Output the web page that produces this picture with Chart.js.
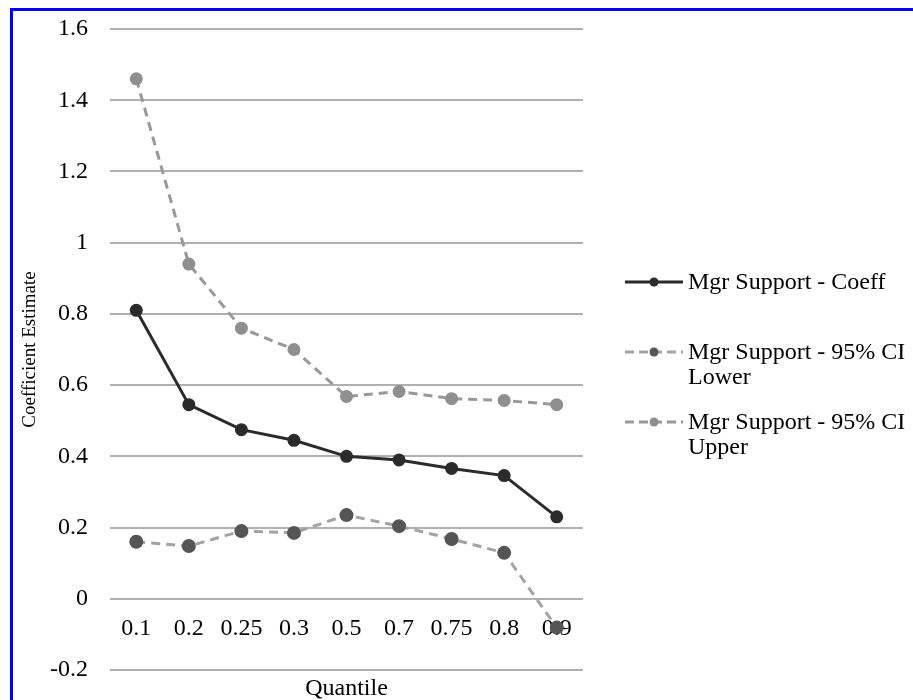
<!DOCTYPE html>
<html>
<head>
<meta charset="utf-8">
<script src="https://cdn.jsdelivr.net/npm/chart.js@4/dist/chart.umd.min.js"></script>
<style>
    body {
        margin: 0;
        background: #fff;
    }
    #wrap {
        position: relative;
        width: 913px;
        height: 700px;
        overflow: hidden;
    }
    #frame {
        position: absolute;
        left: 10px;
        top: 8px;
        width: 960px;
        height: 760px;
        border-left: 3px solid #0000ff;
        border-top: 3px solid #0000ff;
        pointer-events: none;
    }
    #legend {
        position: absolute;
        left: 624px;
        top: 269px;
        font-family: "Liberation Serif", "Times New Roman", serif;
        font-size: 24px;
        line-height: 25px;
        color: #000;
    }
    .legend-item {
        display: flex;
        align-items: flex-start;
        height: 70px;
    }
    .legend-item svg {
        flex: none;
        margin-top: 6px;
        margin-right: 4px;
    }
    .legend-text {
        width: 222px;
    }
</style>
</head>
<body>
<div id="wrap">
    <canvas id="chart-quantile" width="913" height="700"></canvas>
    <div id="legend"></div>
    <div id="frame"></div>
</div>
<script>
// Quantiles (eje X)
const quantiles = ['0.1', '0.2', '0.25', '0.3', '0.5', '0.7', '0.75', '0.8', '0.9'];

// Series
const coeff = [0.81, 0.545, 0.475, 0.445, 0.40, 0.39, 0.366, 0.346, 0.23];
const ciLower = [0.16, 0.148, 0.19, 0.185, 0.235, 0.204, 0.168, 0.129, -0.081];
const ciUpper = [1.46, 0.94, 0.76, 0.70, 0.568, 0.582, 0.562, 0.557, 0.545];

const seriesNames = [
    'Mgr Support - Coeff',
    'Mgr Support - 95% CI Lower',
    'Mgr Support - 95% CI Upper'
];

// Eje Y
const yMin = -0.2;
const yMax = 1.6;
const yStep = 0.2;

const serif = '"Liberation Serif", "Times New Roman", serif';

let chart;

function createQuantileChart() {
    const ctx = document.getElementById('chart-quantile').getContext('2d');

    chart = new Chart(ctx, {
        type: 'line',
        data: {
            labels: quantiles,
            datasets: [{
                label: seriesNames[0],
                data: coeff,
                borderColor: '#2b2b2b',
                borderWidth: 3,
                pointBackgroundColor: '#2b2b2b',
                pointBorderColor: '#2b2b2b',
                pointRadius: 5,
                tension: 0
            }, {
                label: seriesNames[1],
                data: ciLower,
                borderColor: '#a3a3a3',
                borderWidth: 3,
                borderDash: [9, 6],
                pointBackgroundColor: '#555555',
                pointBorderColor: '#555555',
                pointRadius: 5.5,
                tension: 0
            }, {
                label: seriesNames[2],
                data: ciUpper,
                borderColor: '#999999',
                borderWidth: 3,
                borderDash: [9, 6],
                pointBackgroundColor: '#8f8f8f',
                pointBorderColor: '#8f8f8f',
                pointRadius: 5,
                tension: 0
            }]
        },
        options: {
            responsive: false,
            animation: false,
            devicePixelRatio: 1,
            layout: {
                padding: { left: 14, right: 330, top: 29, bottom: 0 }
            },
            plugins: {
                legend: { display: false },
                tooltip: { enabled: false }
            },
            scales: {
                y: {
                    min: yMin,
                    max: yMax,
                    afterFit: scale => {
                        scale.width = 96;
                        scale.paddingTop = 0;
                        scale.paddingBottom = 0;
                    },
                    grid: {
                        color: '#b0b0b0',
                        lineWidth: 2,
                        drawTicks: false
                    },
                    border: { display: false },
                    ticks: {
                        stepSize: yStep,
                        padding: 22,
                        color: '#000',
                        font: { family: serif, size: 24 },
                        callback: value => String(Math.round(value * 10) / 10)
                    },
                    title: {
                        display: true,
                        text: 'Coefficient Estimate',
                        color: '#000',
                        font: { family: serif, size: 19 },
                        padding: { top: 5, bottom: 0 }
                    }
                },
                x: {
                    offset: true,
                    afterFit: scale => { scale.height = 30; },
                    grid: { display: false },
                    border: { display: false },
                    ticks: { display: false },
                    title: {
                        display: true,
                        text: 'Quantile',
                        color: '#000',
                        font: { family: serif, size: 24 },
                        padding: { top: 0, bottom: -3 }
                    }
                },
                // etiquetas de categoría sobre la línea del 0 (como en Excel)
                x2: {
                    type: 'category',
                    position: { y: 0 },
                    offset: true,
                    grid: { display: false, drawTicks: false },
                    border: { display: false },
                    ticks: {
                        padding: 16,
                        color: '#000',
                        font: { family: serif, size: 24 }
                    }
                }
            }
        }
    });

    updateLegend(chart.data.datasets);
}

// Leyenda HTML (el texto se parte en dos líneas como en el original)
function updateLegend(datasets) {
    const legend = document.getElementById('legend');
    legend.innerHTML = '';

    datasets.forEach(ds => {
        const dash = ds.borderDash ? 'stroke-dasharray="9 5"' : '';
        const item = document.createElement('div');
        item.className = 'legend-item';
        item.innerHTML = `
            <svg width="60" height="14" viewBox="0 0 60 14">
                <line x1="1" y1="7" x2="59" y2="7" stroke="${ds.borderColor}" stroke-width="3" ${dash}/>
                <circle cx="30" cy="7" r="4.5" fill="${ds.pointBackgroundColor}"/>
            </svg>
            <span class="legend-text">${ds.label}</span>
        `;
        legend.appendChild(item);
    });
}

createQuantileChart();
</script>
</body>
</html>
